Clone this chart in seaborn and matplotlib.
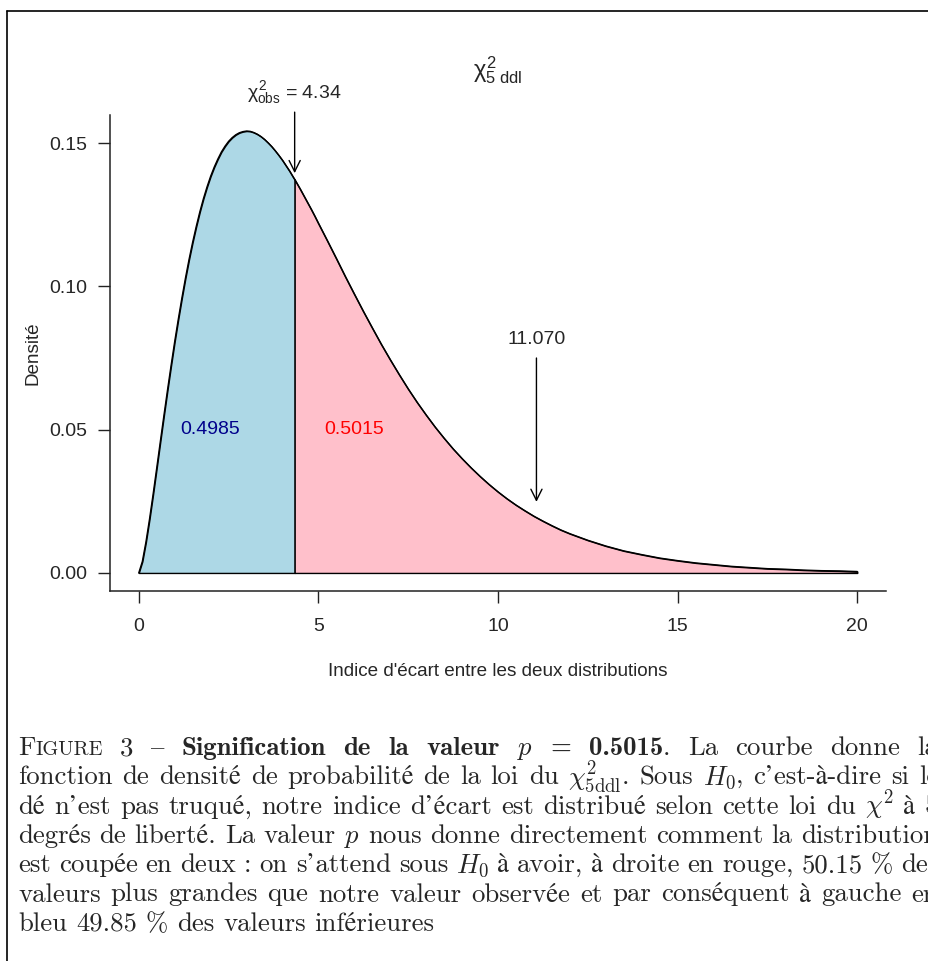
import re
import matplotlib
matplotlib.use('Agg')
import numpy as np
import pandas as pd
import seaborn as sns
import matplotlib.pyplot as plt

# densité du chi2 à 5 ddl
x_vals = [0, 0.1, 0.2, 0.3, 0.4, 0.5, 0.6, 0.7, 0.8, 0.9,
          1.0, 1.1, 1.2, 1.3, 1.4, 1.5, 1.6, 1.7, 1.8, 1.9,
          2.0, 2.1, 2.2, 2.3, 2.4, 2.5, 2.6, 2.7, 2.8, 2.9,
          3.0, 3.1, 3.2, 3.3, 3.4, 3.5, 3.6, 3.7, 3.8, 3.9,
          4.0, 4.1, 4.2, 4.3, 4.34, 4.4, 4.5, 4.6, 4.7, 4.8, 4.9,
          5.0, 5.25, 5.5, 5.75, 6.0, 6.25, 6.5, 6.75, 7.0, 7.25, 7.5, 7.75,
          8.0, 8.25, 8.5, 8.75, 9.0, 9.25, 9.5, 9.75, 10.0, 10.25, 10.5,
          10.75, 11.0, 11.25, 11.5, 11.75, 12.0,
          12.5, 13, 13.5, 14, 14.5, 15, 15.5, 16, 16.5, 17, 17.5, 18,
          18.5, 19, 19.5, 20]
dens_vals = [0, 0.0040, 0.0108, 0.0188, 0.0275, 0.0366, 0.0458, 0.0549, 0.0638, 0.0724,
             0.0807, 0.0885, 0.0959, 0.1029, 0.1094, 0.1154, 0.1209, 0.1260, 0.1306, 0.1347,
             0.1384, 0.1416, 0.1444, 0.1469, 0.1489, 0.1506, 0.1519, 0.1529, 0.1536, 0.1540,
             0.1542, 0.1541, 0.1537, 0.1531, 0.1523, 0.1513, 0.1501, 0.1488, 0.1473, 0.1457,
             0.1440, 0.1421, 0.1402, 0.1381, 0.1373, 0.1360, 0.1338, 0.1315, 0.1292, 0.1269, 0.1245,
             0.1220, 0.1159, 0.1097, 0.1034, 0.0973, 0.0913, 0.0855, 0.0798, 0.0744, 0.0692,
             0.0642, 0.0595, 0.0551, 0.0509, 0.0470, 0.0433, 0.0399, 0.0367, 0.0337, 0.0309,
             0.0283, 0.0259, 0.0237, 0.0217, 0.0198, 0.0181, 0.0165, 0.0150, 0.0137,
             0.0114, 0.0094, 0.0077, 0.0064, 0.0052, 0.0043, 0.0035, 0.0029, 0.0023,
             0.0019, 0.0015, 0.0013, 0.0010, 0.0008, 0.0007, 0.0005]
x_obs = 4.34
x_crit = 11.070
p_gauche = "0.4985"
p_droite = "0.5015"
x_ticks = [0, 5, 10, 15, 20]
y_ticks = [0.00, 0.05, 0.10, 0.15]
y_ticklabels = ["0.00", "0.05", "0.10", "0.15"]

caption_lines = [
    "F^IGURE^ 3 – *Signification* *de* *la* *valeur* $p$ *=* *0.5015*. La courbe donne la",
    "fonction de densité de probabilité de la loi du $\\chi^2_{5\\mathrm{ddl}}$. Sous $H_0$, c’est-à-dire si le",
    "dé n’est pas truqué, notre indice d’écart est distribué selon cette loi du $\\chi^2$ à 5",
    "degrés de liberté. La valeur $p$ nous donne directement comment la distribution",
    "est coupée en deux : on s’attend sous $H_0$ à avoir, à droite en rouge, 50.15 % des",
    "valeurs plus grandes que notre valeur observée et par conséquent à gauche en",
    "bleu 49.85 % des valeurs inférieures",
]

df = pd.DataFrame({'x': x_vals, 'densite': dens_vals})

sns.set_style('ticks')
plt.rcParams['font.family'] = ['Liberation Sans', 'DejaVu Sans']
plt.rcParams['mathtext.fontset'] = 'custom'
plt.rcParams['mathtext.rm'] = 'Liberation Sans'
plt.rcParams['mathtext.it'] = 'Liberation Sans'
plt.rcParams['mathtext.bf'] = 'Liberation Sans:bold'

W, H = 929, 961
fig = plt.figure(figsize=(W / 100, H / 100), dpi=100)
ax = fig.add_axes([110 / W, 1 - 591 / H, 776 / W, 476 / H])

gauche = df[df.x <= x_obs]
droite = df[df.x >= x_obs]
ax.fill_between(gauche.x, 0, gauche.densite, facecolor='#ADD8E6',
                edgecolor='black', linewidth=1.0)
ax.fill_between(droite.x, 0, droite.densite, facecolor='#FFC0CB',
                edgecolor='black', linewidth=1.0)
sns.lineplot(data=df, x='x', y='densite', color='black', linewidth=1.0, ax=ax)

ax.set_xlim(-0.8, 20.8)
ax.set_ylim(-0.0063, 0.1598)
ax.set_xticks(x_ticks)
ax.set_xticklabels([str(t) for t in x_ticks])
ax.set_yticks(y_ticks)
ax.set_yticklabels(y_ticklabels)
for s in ['top', 'right']:
    ax.spines[s].set_visible(False)
for s in ['left', 'bottom']:
    ax.spines[s].set_linewidth(1.1)
    ax.spines[s].set_color('#222222')
ax.tick_params(axis='x', length=8.6, width=1.0, pad=10.5, labelsize=14, color='#222222')
ax.tick_params(axis='y', length=8.6, width=1.0, pad=7.5, labelsize=14, color='#222222')

ax.set_xlabel("Indice d'écart entre les deux distributions", fontsize=13.6, va='center')
ax.set_ylabel("Densité", fontsize=13.6, va='center')
ax.xaxis.set_label_coords(0.5, -0.170)
ax.yaxis.set_label_coords(-0.099, 0.5)

arrow = dict(arrowstyle='->', lw=1.0, color='black', mutation_scale=20,
             shrinkA=0, shrinkB=0)
ax.annotate('', xy=(x_obs, 0.1395), xytext=(x_obs, 0.1608),
            arrowprops=arrow, annotation_clip=False)
ax.text(x_obs, 0.1657, r'$\chi^2_{\mathrm{obs}}$ = 4.34', ha='center',
        va='baseline', fontsize=14, clip_on=False)
ax.annotate('', xy=(x_crit, 0.0248), xytext=(x_crit, 0.0750),
            arrowprops=arrow)
ax.text(x_crit, 0.0813, f"{x_crit:.3f}", ha='center', va='center', fontsize=14)
ax.text(2, 0.05, p_gauche, ha='center', va='center', fontsize=14, color='#00008B')
ax.text(6, 0.05, p_droite, ha='center', va='center', fontsize=14, color='#FF0000')

fig.text(0.5 * (110 + 886) / W, 1 - 77 / H, r'$\chi^2_{5\ \mathrm{ddl}}$',
         ha='center', va='baseline', fontsize=17)

# cadre autour de la figure
fig.add_artist(plt.Line2D([7 / W, 1.0], [1 - 11 / H, 1 - 11 / H], color='black', lw=1.2))
fig.add_artist(plt.Line2D([7 / W, 7 / W], [0.0, 1 - 11 / H], color='black', lw=1.2))

# légende de la figure, justifiée
cap_size = 19.3
styles = {
    'rm': dict(family=['cmr10', 'STIXGeneral'], fontsize=cap_size),
    'bf': dict(family=['cmb10', 'STIXGeneral'], fontsize=cap_size),
    'sc': dict(family=['cmr10', 'STIXGeneral'], fontsize=cap_size * 0.76),
    'math': dict(family=['cmr10', 'STIXGeneral'], fontsize=cap_size, math_fontfamily='cm'),
}


def parse_word(word):
    out = []
    for p in re.findall(r'\$[^$]+\$|\*[^*]+\*|\^[^^]+\^|[^$*^]+', word):
        if p.startswith('$'):
            out.append((p, 'math'))
        elif p.startswith('*'):
            out.append((p[1:-1], 'bf'))
        elif p.startswith('^'):
            out.append((p[1:-1], 'sc'))
        else:
            out.append((p, 'rm'))
    return out


renderer = fig.canvas.get_renderer()
cap_left, cap_right = 18, 938
cap_base0, cap_step = 755, 29.3
for i, line in enumerate(caption_lines):
    y = 1 - (cap_base0 + i * cap_step) / H
    items = []
    for w in line.split(' '):
        texts = [fig.text(0, y, s, ha='left', va='baseline', **styles[k])
                 for s, k in parse_word(w)]
        items.append(texts)
    widths = [[t.get_window_extent(renderer).width for t in ts] for ts in items]
    total = sum(sum(ws) for ws in widths)
    if i < len(caption_lines) - 1:
        gap = (cap_right - cap_left - total) / (len(items) - 1)
    else:
        gap = cap_size * 100 / 72 * 0.333
    x = cap_left
    for ts, ws in zip(items, widths):
        for t, w in zip(ts, ws):
            t.set_x(x / W)
            x += w
        x += gap

fig.savefig('out.png', dpi=100)
